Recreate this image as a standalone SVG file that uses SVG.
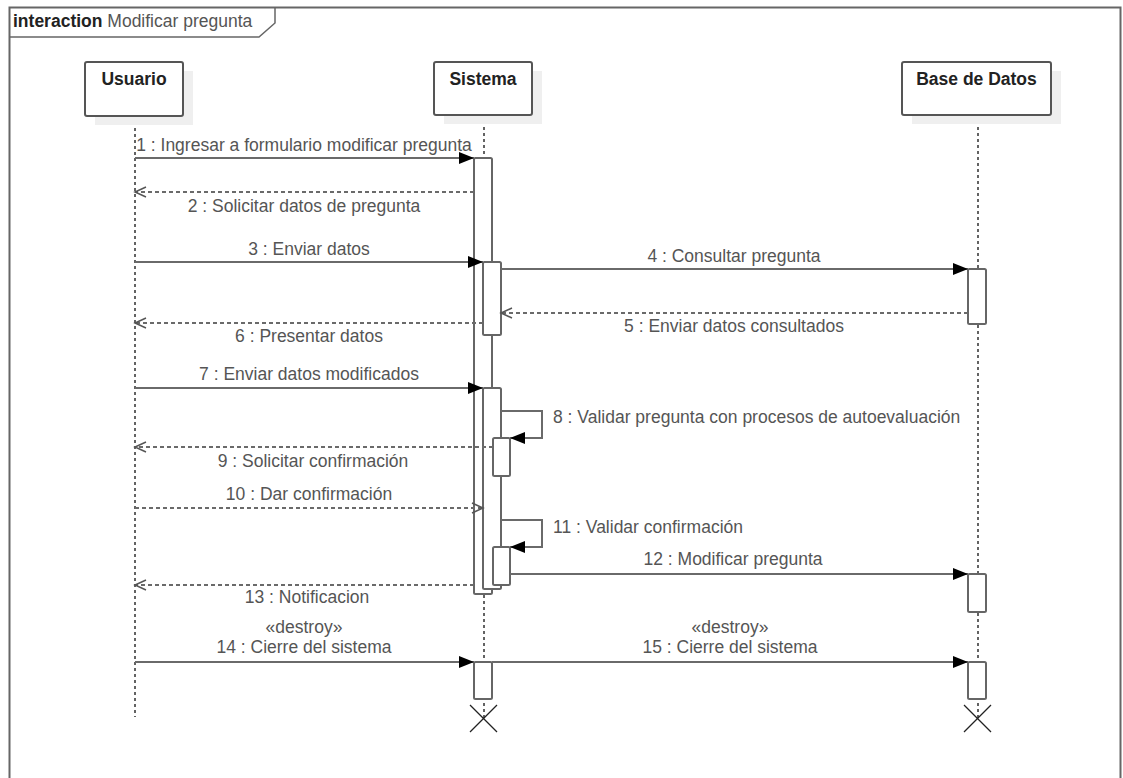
<svg xmlns="http://www.w3.org/2000/svg" width="1123" height="778" viewBox="0 0 1123 778">
<style>
text{font-family:"Liberation Sans",Arial,sans-serif;font-size:17.5px;fill:#555}
.title{font-weight:bold;fill:#222;text-anchor:middle}
.lbl{text-anchor:middle}
.box{fill:#fff;stroke:#555;stroke-width:2}
.shadow{fill:#efefef}
.life{stroke:#222;stroke-width:1.4;stroke-dasharray:3 3;fill:none}
.bar{fill:#fff;stroke:#666;stroke-width:2}
.msg{stroke:#6a6a6a;stroke-width:2;fill:none;marker-end:url(#filled)}
.ret{stroke:#6a6a6a;stroke-width:2;stroke-dasharray:4 3;fill:none;marker-end:url(#open)}
.x{stroke:#222;stroke-width:1.2}
</style>
<defs>
<marker id="filled" markerUnits="userSpaceOnUse" markerWidth="16" markerHeight="13" refX="15" refY="6" orient="auto"><path d="M0,0 L15,6 L0,12 z" fill="#000"/></marker>
<marker id="open" markerUnits="userSpaceOnUse" markerWidth="14" markerHeight="12" refX="12" refY="6" orient="auto"><path d="M1,1 L12,6 L1,11" fill="none" stroke="#555" stroke-width="1.5"/></marker>
</defs>
<rect width="1123" height="778" fill="#fff"/>
<g id="frame">
<path d="M9.5,790 V7.5 H1120.5 V790" fill="none" stroke="#666" stroke-width="2"/>
<path d="M9.5,37 H259 L275,23 V7.5" fill="none" stroke="#666" stroke-width="1.5"/>
<text x="13" y="27"><tspan font-weight="bold" fill="#222">interaction</tspan> Modificar pregunta</text>
</g>
<g id="usuario">
<line class="life" x1="135" y1="116" x2="135" y2="717"/>
<rect class="shadow" x="95" y="71" width="98" height="54"/>
<rect class="box" x="85" y="62" width="98" height="54" rx="2"/>
<text class="title" x="134" y="85">Usuario</text>
</g>
<g id="sistema">
<line class="life" x1="484" y1="115" x2="484" y2="720"/>
<rect class="shadow" x="444" y="71" width="98" height="53"/>
<rect class="box" x="434" y="62" width="98" height="53" rx="2"/>
<text class="title" x="483" y="85">Sistema</text>
<rect class="bar" x="474" y="158" width="18" height="436" rx="1.5"/>
<rect class="bar" x="483" y="262" width="18" height="73" rx="1.5"/>
<rect class="bar" x="483" y="388" width="18" height="201" rx="1.5"/>
<rect class="bar" x="493" y="438" width="17" height="38" rx="1.5"/>
<rect class="bar" x="493" y="547" width="17" height="38" rx="1.5"/>
<rect class="bar" x="474" y="662" width="18" height="37" rx="1.5"/>
<line class="x" x1="470" y1="705" x2="497" y2="732"/>
<line class="x" x1="497" y1="705" x2="470" y2="732"/>
</g>
<g id="basedatos">
<line class="life" x1="978" y1="115" x2="978" y2="720"/>
<rect class="shadow" x="912" y="71" width="149" height="53"/>
<rect class="box" x="902" y="62" width="149" height="53" rx="2"/>
<text class="title" x="976.5" y="85">Base de Datos</text>
<rect class="bar" x="968" y="269" width="18" height="55" rx="1.5"/>
<rect class="bar" x="968" y="574" width="18" height="38" rx="1.5"/>
<rect class="bar" x="968" y="662" width="18" height="37" rx="1.5"/>
<line class="x" x1="964" y1="705" x2="991" y2="732"/>
<line class="x" x1="991" y1="705" x2="964" y2="732"/>
</g>
<g id="connectors">
<line class="msg" x1="135" y1="158" x2="474" y2="158"/>
<text class="lbl" x="304" y="151">1 : Ingresar a formulario modificar pregunta</text>
<line class="ret" x1="474" y1="192" x2="135" y2="192"/>
<text class="lbl" x="304" y="212">2 : Solicitar datos de pregunta</text>
<line class="msg" x1="135" y1="262" x2="483" y2="262"/>
<text class="lbl" x="309" y="255">3 : Enviar datos</text>
<line class="msg" x1="501" y1="269" x2="968" y2="269"/>
<text class="lbl" x="734" y="262">4 : Consultar pregunta</text>
<line class="ret" x1="968" y1="313" x2="501" y2="313"/>
<text class="lbl" x="734" y="332">5 : Enviar datos consultados</text>
<line class="ret" x1="483" y1="323" x2="135" y2="323"/>
<text class="lbl" x="309" y="342">6 : Presentar datos</text>
<line class="msg" x1="135" y1="388" x2="483" y2="388"/>
<text class="lbl" x="309" y="380">7 : Enviar datos modificados</text>
<path class="msg" d="M501,411 H542 V438 H510"/>
<text x="553" y="423">8 : Validar pregunta con procesos de autoevaluación</text>
<line class="ret" x1="493" y1="447" x2="135" y2="447"/>
<text class="lbl" x="313" y="467">9 : Solicitar confirmación</text>
<line class="ret" x1="135" y1="508" x2="483" y2="508"/>
<text class="lbl" x="309" y="500">10 : Dar confirmación</text>
<path class="msg" d="M501,520 H542 V547 H510"/>
<text x="553" y="533">11 : Validar confirmación</text>
<line class="msg" x1="510" y1="574" x2="968" y2="574"/>
<text class="lbl" x="733" y="565">12 : Modificar pregunta</text>
<line class="ret" x1="474" y1="585" x2="135" y2="585"/>
<text class="lbl" x="307" y="603">13 : Notificacion</text>
<line class="msg" x1="135" y1="662" x2="474" y2="662"/>
<text class="lbl" x="304" y="633">«destroy»</text>
<text class="lbl" x="304" y="653">14 : Cierre del sistema</text>
<line class="msg" x1="492" y1="662" x2="968" y2="662"/>
<text class="lbl" x="730" y="633">«destroy»</text>
<text class="lbl" x="730" y="653">15 : Cierre del sistema</text>
</g>
</svg>
